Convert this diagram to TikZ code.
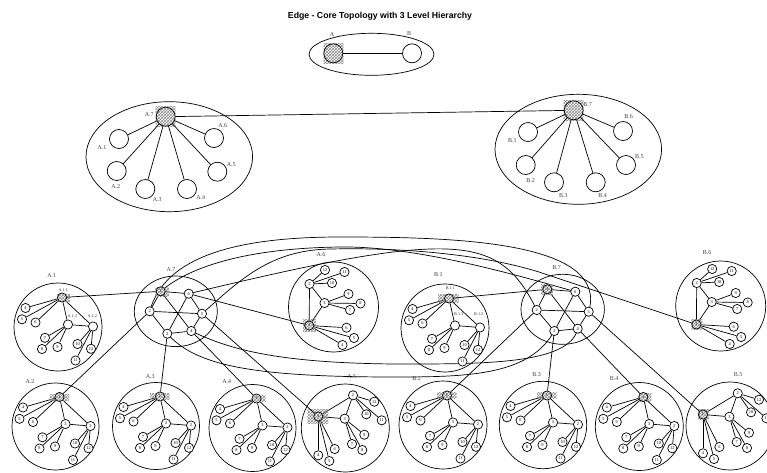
\documentclass[tikz,border=0pt]{standalone}
\usepackage{fontspec}
\setmainfont{Liberation Serif}
\newfontfamily\titlefont{Liberation Sans}
\usetikzlibrary{patterns,backgrounds,shapes.geometric}
\tikzset{
  x=1pt,y=-1pt,
  link/.style={line width=0.7pt,black},
  ring/.style={draw,line width=0.7pt,circle,minimum size=#1,inner sep=0pt},
  bignode/.style={ring=19pt,fill=white},
  bighub/.style={ring=19pt,pattern=crosshatch,pattern color=black!45,preaction={fill=white}},
  smallleaf/.style={ring=9.2pt,fill=white,text=black,font=\fontsize{4.4}{5}\selectfont},
  smallhub/.style={ring=9.2pt,pattern=crosshatch,pattern color=black!45,preaction={fill=white},text=black,font=\fontsize{4.4}{5}\selectfont},
  hatchbox/.style={pattern=crosshatch,pattern color=black!45},
  lab/.style={text=black!75,font=\fontsize{6}{7}\selectfont,inner sep=0pt},
  sublab/.style={text=black!80,font=\fontsize{4.2}{5}\selectfont,inner sep=0pt},
  bigblob/.style={draw,line width=0.7pt,ellipse},
}
% relative positions of the twelve nodes of a level-3 group
\def\tplA{1/4/-29.5,2/35/-0.5,3/10/-2.5,4/-32.5/-19,5/-36/-7.7,6/-22.5/-4.5,7/-13/10.8,8/-16/22,9/-0.5/20,10/19.5/17,11/17.5/33.5,12/33/21.8}
\def\tplB{1/-27/-11.5,2/7.7/-32.7,3/-0.6/-9.3,4/-27/27.3,5/-16/33,6/-10.6/21,7/6.7/16,8/17/22,9/19/6.7,10/21/-13.7,11/36.4/-7.7,12/29/-26.3}
\def\tplC{1/-24.3/18.5,2/-24/-23,3/-9/-4,4/9/38,5/20.5/31,6/13/20.7,7/16.5/3,8/27/-3.5,9/15/-13,10/-1.5/-24,11/11/-35,12/-8.5/-37}
% #1 name, #2 cx, #3 cy, #4 template, #5 radius, #6 #7 #8 hatch xleft xright yhalf, #9 1 = hide core digits
\newcommand\groupdraw[9]{
  \node[draw,line width=0.7pt,circle,minimum size=2*#5 pt,inner sep=0pt] (#1ring) at (#2,#3) {};
  \begin{scope}[shift={(#2,#3)}]
    \foreach \n/\dx/\dy in #4 {
      \ifnum\n=1 \def\st{smallhub}\else\def\st{smallleaf}\fi
      \def\dig{\n}
      \ifnum#9=1 \ifnum\n<4 \def\dig{}\fi\fi
      \node[\st] (#1n\n) at (\dx,\dy) {\dig};
    }
  \end{scope}
  \begin{scope}[on background layer]
    \foreach \a/\b in {1/2,1/3,1/4,1/5,1/6,2/3,2/10,2/11,2/12,3/7,3/8,3/9}
      \draw[link] (#1n\a) -- (#1n\b);
    \begin{scope}[shift={(#1n1)}]
      \fill[hatchbox] (#6,-#8) rectangle (#7,#8);
    \end{scope}
  \end{scope}
}
\begin{document}
\begin{tikzpicture}
\useasboundingbox (0,0) rectangle (767,472);
\node[font=\titlefont\bfseries\fontsize{8.7}{10}\selectfont,inner sep=0pt] (title) at (380,16) {Edge - Core Topology with 3 Level Hierarchy};

% level 1
\node[bigblob,minimum width=125pt,minimum height=42pt,inner sep=0pt] (top) at (371.5,54.3) {};
\fill[hatchbox] (323.5,43.5) rectangle (343.5,63.5);
\node[bighub] (A) at (333.3,53.3) {};
\node[bignode] (B) at (412,53.3) {};
\draw[link] (A) -- (B);
\node[lab] (lA) at (332,35) {A};
\node[lab] (lB) at (409,33.5) {B};

% level 2
\node[bigblob,minimum width=166.6pt,minimum height=110pt,inner sep=0pt] (leftblob) at (169.3,156.7) {};
\node[bigblob,minimum width=166.6pt,minimum height=110pt,inner sep=0pt] (rightblob) at (578.3,149.3) {};
\fill[hatchbox] (155.7,106.7) rectangle (175.7,126.7);
\fill[hatchbox] (563.7,100.3) rectangle (583.7,120.3);
\node[bighub] (L7) at (165.7,116.7) {};
\foreach \n/\x/\y in {1/119/139,2/116.7/171,3/145.3/189,4/187/189,5/217.3/171.7,6/214/138}{
  \node[bignode] (L\n) at (\x,\y) {};
  \draw[link] (L7) -- (L\n);
}
\node[bighub] (R7) at (573.7,110.3) {};
\foreach \n/\x/\y in {1/528/132,2/525.7/165,3/554/182.3,4/595.7/182.3,5/626/165,6/623/131}{
  \node[bignode] (R\n) at (\x,\y) {};
  \draw[link] (R7) -- (R\n);
}
\draw[link] (L7) -- (R7);
\foreach \t/\x/\y in {A.7/149.3/115,A.1/102/147.3,A.2/115.7/186.3,A.3/157.3/199.7,A.4/200.7/197.3,A.5/231.3/164.3,A.6/222.7/125.7,
  B.7/587.7/105,B.1/512.3/140.7,B.2/530.7/181,B.3/563.3/195.7,B.4/602.7/195.7,B.5/639.3/156.7,B.6/628.7/116.7}
  \node[lab] (m\t) at (\x,\y) {\t};

% level 3 groups
\groupdraw{aone}{58}{327}{\tplA}{44}{-5}{8}{3.5}{1}
\groupdraw{atwo}{55.5}{426.5}{\tplA}{43.5}{-10}{9.5}{3}{0}
\groupdraw{athree}{156}{426}{\tplA}{43.5}{-10}{9.5}{3}{0}
\groupdraw{afour}{252.5}{428}{\tplA}{43.5}{-4}{9}{3}{0}
\groupdraw{afive}{345.3}{428}{\tplB}{44}{-11}{10}{7}{0}
\groupdraw{asix}{333.5}{307}{\tplC}{45}{-6}{7}{6}{0}
\groupdraw{bone}{445}{328}{\tplA}{44}{-11}{9.5}{4}{1}
\groupdraw{btwo}{443}{425}{\tplA}{44}{-10}{9.5}{3}{0}
\groupdraw{bthree}{543}{425}{\tplA}{43.7}{-10}{9.5}{3}{0}
\groupdraw{bfour}{639.3}{426.5}{\tplA}{44}{-4}{8}{4}{0}
\groupdraw{bfive}{730}{426}{\tplB}{44}{-5}{6}{5}{0}
\groupdraw{bsix}{720.7}{306}{\tplC}{45}{-5}{6}{5}{0}

\node[sublab] (t1) at (63.3,290.3) {A.1.1};
\node[sublab] (t2) at (72.3,315.7) {A.1.3};
\node[sublab] (t3) at (92.3,315.7) {A.1.2};
\node[sublab] (t4) at (450.3,288) {B.1.1};
\node[sublab] (t5) at (458.7,314) {B.1.3};
\node[sublab] (t6) at (478.7,314) {B.1.2};

\foreach \t/\x/\y in {A.1/51.7/276,A.2/30/381.7,A.3/150.3/376.7,A.4/226.7/381.7,A.5/351.7/376.7,A.6/321/254.7,A.7/171/269.3,
  B.1/438.3/274.7,B.2/416.7/378.7,B.3/536.7/374.7,B.4/614/378.7,B.5/738/374.7,B.6/707/253,B.7/556.7/267.7}
  \node[lab] (g\t) at (\x,\y) {\t};

% core rings
\node[bigblob,minimum width=83pt,minimum height=70.6pt,inner sep=0pt] (acore) at (175.8,311.3) {};
\node[bigblob,minimum width=83.4pt,minimum height=70pt,inner sep=0pt] (bcore) at (562.7,309.3) {};
\foreach \n/\x/\y in {2/149.7/311.3,3/167.3/333.7,4/191.3/331,5/202/313.7,6/188.7/293.7}
  \node[smallleaf] (ac\n) at (\x,\y) {\n};
\foreach \n/\x/\y in {2/536.7/310,3/554.3/331,4/577.7/328.7,5/588.7/311.7,6/575.3/291.7}
  \node[smallleaf] (bc\n) at (\x,\y) {\n};
\fill[hatchbox] (155,287) rectangle (169,296);
\fill[hatchbox] (541,284) rectangle (553,294);
\node[smallhub] (ac1) at (160.7,291.3) {1};
\node[smallhub] (bc1) at (547.3,289.3) {1};

\coordinate (bend) at (548,275);
\begin{scope}[on background layer]
  \foreach \u/\v in {1/6,1/2,6/5,2/5,2/3,3/4,4/5,1/4,6/3}{
    \draw[link] (ac\u) -- (ac\v);
    \draw[link] (bc\u) -- (bc\v);
  }
  % group to core
  \draw[link] (aonen1) -- (ac1);
  \draw[link] (atwon1) -- (ac2);
  \draw[link] (athreen1) -- (ac3);
  \draw[link] (afourn1) -- (ac4);
  \draw[link] (afiven1) -- (ac5);
  \draw[link] (asixn1) -- (ac6);
  \draw[link] (bonen1) -- (bc1);
  \draw[link] (btwon1) -- (bc2);
  \draw[link] (bthreen1) -- (bc3);
  \draw[link] (bfourn1) -- (bc4);
  \draw[link] (bfiven1) -- (bc5);
  % long curves
  \draw[link] (ac2.center) .. controls (165,255) and (240,237) .. (340,237)
     .. controls (450,237) and (610,240) .. (bc5.center);
  \draw[link] (ac1.center) .. controls (195,262) and (260,248) .. (340,247)
     .. controls (410,246) and (500,270) .. (bc6.center);
  \draw[link] (ac5.center) .. controls (240,280) and (270,250) .. (330,249)
     .. controls (420,247) and (500,258) .. (bend) -- (bsixn1.center);
  \draw[link] (ac6.center) .. controls (280,272) and (370,251) .. (430,249)
     .. controls (490,247) and (515,265) .. (bc2.center);
  \draw[link] (ac3.center) .. controls (195,365) and (250,377) .. (395,377)
     .. controls (470,377) and (530,375) .. (bc3.center);
  \draw[link] (ac4.center) .. controls (230,350) and (280,363) .. (395,364)
     .. controls (480,364) and (570,365) .. (bc4.center);
\end{scope}
\end{tikzpicture}
\end{document}
